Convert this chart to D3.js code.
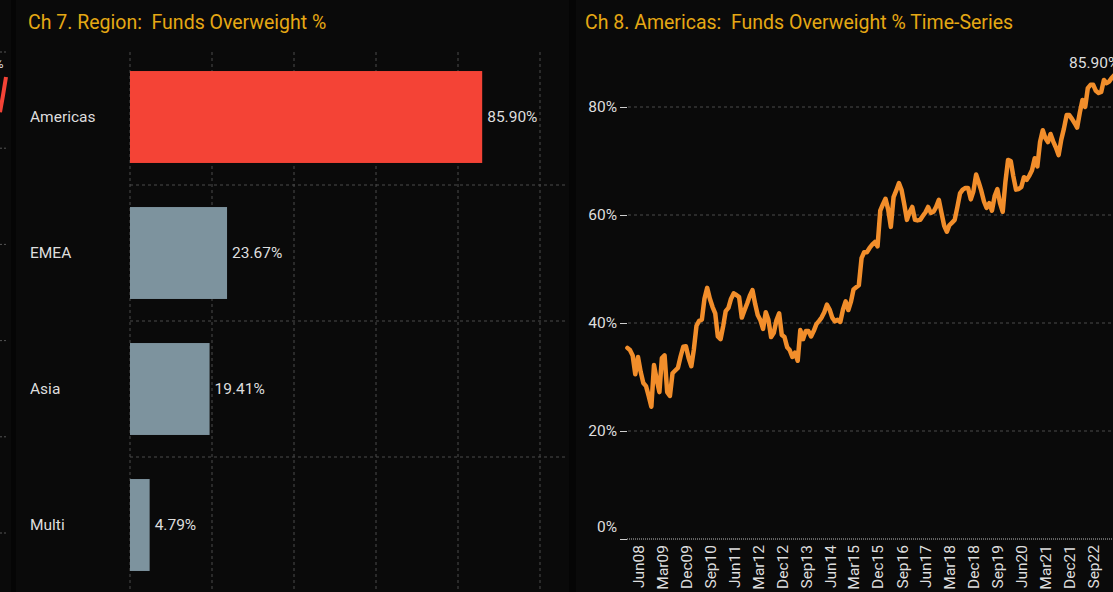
<!DOCTYPE html>
<html><head><meta charset="utf-8">
<script src="https://cdn.jsdelivr.net/npm/d3@7"></script>
<style>
html,body{margin:0;padding:0;background:#050505;}
svg{display:block;}
text{font-family:Roboto,"Noto Sans",sans-serif;}
</style></head>
<body>
<svg id="c" width="1113" height="592"></svg>
<script>
// ---------- DATA ----------
const regions = ["Americas", "EMEA", "Asia", "Multi"];
const regionValues = [85.90, 23.67, 19.41, 4.79];
const barTicks = [0, 20, 40, 60, 80, 100];

const seriesStart = "2008-02"; // first monthly observation
const americasSeries = [
 35.4,35,34,30.5,33.7,31,28.9,28.3,26.5,24.5,32.2,29.5,27.2,33.5,34,27.2,26.5,30.7,31.2,31.7,
 33.8,35.6,35.7,33.5,32,35,39.5,40.4,40.6,44.5,46.5,44.5,43,41.8,37.5,37,39.5,42.2,42.8,44.5,
 45.5,45.2,44.8,41,42.3,43.6,45,46.1,43.5,41.5,40.5,38.9,42,40.6,37.4,38.2,40.5,41.8,37.8,37.4,
 35.5,35,33.7,34.5,33,38.7,37,38.5,38.5,37.5,38.5,39.8,40.4,41,42,43.4,42.5,41,40.3,40.6,
 40.2,42.5,44,42.4,44,46.2,46.6,47,52,53.1,53.1,53.9,54.5,55,54.2,60.8,62,63,61,57.8,
 63.3,64.5,65.9,64.6,62,59.1,60.5,61.5,59.1,59,59.1,59.8,60.5,61.5,60.4,60.6,61.5,62.8,60.4,58,
 56.9,58.1,58.6,59.1,61.5,64,64.7,65,65,62.9,64.4,67.5,66,64.5,62.5,61.3,62.2,60.8,63.5,64.8,
 62.2,60.6,66,70.2,70,67.2,64.7,64.8,65.2,67,66.5,67.3,68.3,70.5,69,73.5,75.7,74.3,73.5,75,
 73.6,72.5,71.1,74,76,78.5,78.5,77.8,77,76.2,79,81.3,80,83.5,84.1,84.1,83,82.6,82.8,85,
 84.4,84.7,85.4,85.9
];
const timeTickLabels = ["Jun08","Mar09","Dec09","Sep10","Jun11","Mar12","Dec12","Sep13","Jun14","Mar15",
 "Dec15","Sep16","Jun17","Mar18","Dec18","Sep19","Jun20","Mar21","Dec21","Sep22"];
const lineTicks = [0, 20, 40, 60, 80];

// tail of the neighbouring (cropped) panel's series, as visible at the left edge
const neighbourTail = [87.5, 91, 94.8];
const neighbourTicks = [0, 20, 40, 60, 80, 100];

// ---------- SETUP ----------
const svg = d3.select("#c");
const TITLE = "#e5a814", TXT = "#dedede", GRID = "#4a4a4a";

// panels
svg.append("rect").attr("x",0).attr("y",0).attr("width",11).attr("height",592).attr("fill","#0a0a0a");
svg.append("rect").attr("x",16).attr("y",0).attr("width",553).attr("height",592).attr("fill","#0a0a0a");
svg.append("rect").attr("x",576).attr("y",0).attr("width",537).attr("height",592).attr("fill","#0a0a0a");

// remnant of neighbouring panel
const g0 = svg.append("g");
const yn = d3.scaleLinear().domain([0,100]).range([533,52]);
g0.selectAll("line").data(neighbourTicks).join("line")
  .attr("x1",0).attr("x2",6).attr("y1",d=>yn(d)).attr("y2",d=>yn(d))
  .attr("stroke","#555").attr("stroke-dasharray","2,2");
const xn = d3.scaleLinear().domain([0,2]).range([0,6]);
g0.append("path").datum(neighbourTail)
  .attr("d",d3.line().x((d,i)=>xn(i)).y(d=>yn(d)))
  .attr("fill","none").attr("stroke","#f44336").attr("stroke-width",4);
g0.append("text").attr("x",-6).attr("y",68).attr("fill",TXT).attr("font-size",13).text("%");

// ---------- BAR CHART ----------
const g1 = svg.append("g");
g1.append("text").attr("x",28).attr("y",29).attr("fill",TITLE).attr("font-size",19.5)
  .style("white-space","pre").text("Ch 7. Region:  Funds Overweight %");

const xb = d3.scaleLinear().domain([0,100]).range([130,540]);
const yb = d3.scaleBand().domain(regions).range([49,593]).paddingInner(0.324).paddingOuter(0.162);

// vertical grid
g1.selectAll(".vg").data(barTicks).join("line")
  .attr("x1",d=>xb(d)).attr("x2",d=>xb(d)).attr("y1",52).attr("y2",592)
  .attr("stroke",GRID).attr("stroke-dasharray","3,3");
// horizontal separators between bands
g1.selectAll(".hg").data(regions.slice(1)).join("line")
  .attr("x1",130).attr("x2",565)
  .attr("y1",d=>yb(d)-yb.step()*yb.paddingInner()/2)
  .attr("y2",d=>yb(d)-yb.step()*yb.paddingInner()/2)
  .attr("stroke",GRID).attr("stroke-dasharray","3,3");

g1.selectAll(".bar").data(regions).join("rect")
  .attr("x",xb(0)).attr("y",d=>yb(d))
  .attr("width",(d,i)=>xb(regionValues[i])-xb(0))
  .attr("height",yb.bandwidth())
  .attr("fill",(d,i)=>i===0?"#f44336":"#7d939e");

g1.selectAll(".cat").data(regions).join("text")
  .attr("x",30).attr("y",d=>yb(d)+yb.bandwidth()/2).attr("dy","0.35em")
  .attr("fill",TXT).attr("font-size",15.5).text(d=>d);

g1.selectAll(".val").data(regions).join("text")
  .attr("x",(d,i)=>xb(regionValues[i])+5).attr("y",d=>yb(d)+yb.bandwidth()/2).attr("dy","0.35em")
  .attr("fill",TXT).attr("font-size",15.5).text((d,i)=>regionValues[i].toFixed(2)+"%");

// ---------- LINE CHART ----------
const g2 = svg.append("g");
g2.append("text").attr("x",585).attr("y",29).attr("fill",TITLE).attr("font-size",19.5)
  .style("white-space","pre").text("Ch 8. Americas:  Funds Overweight % Time-Series");

const parseM = d3.timeParse("%Y-%m");
const t0 = parseM(seriesStart);
const dates = americasSeries.map((v,i)=>d3.timeMonth.offset(t0,i));
const xt = d3.scaleTime().domain([dates[0], dates[dates.length-1]]).range([627.4,1114.4]);
const yt = d3.scaleLinear().domain([0,90]).range([539,53]);

// y grid
g2.selectAll(".yg").data(lineTicks.filter(d=>d>0)).join("line")
  .attr("x1",628).attr("x2",1113).attr("y1",d=>yt(d)).attr("y2",d=>yt(d))
  .attr("stroke",GRID).attr("stroke-dasharray","3,3");

const yAxis = g2.append("g").attr("transform","translate(627,0)")
  .call(d3.axisLeft(yt).tickValues(lineTicks).tickFormat(d=>d+"%").tickSize(7).tickPadding(3));
yAxis.select(".domain").remove();
yAxis.selectAll(".tick line").attr("stroke","#cfcfcf");
yAxis.selectAll("text").attr("fill",TXT).attr("font-size",15.5).attr("font-family","Roboto,sans-serif");
yAxis.selectAll(".tick").filter(d=>d===0).select("text").attr("y",-12);

// x axis
const parseTick = d3.timeParse("%b%y");
const xTickDates = timeTickLabels.map(parseTick);
const xAxis = g2.append("g").attr("transform","translate(0,539)")
  .call(d3.axisBottom(xt).tickValues(xTickDates).tickFormat(d3.timeFormat("%b%y")).tickSize(0).tickPadding(6));
xAxis.select(".domain").remove();
xAxis.selectAll("text").attr("fill",TXT).attr("font-size",15.5).attr("font-family","Roboto,sans-serif")
  .attr("transform","rotate(-90)").attr("text-anchor","end").attr("x",-6).attr("y",0).attr("dy","0.35em");
g2.append("line").attr("x1",627).attr("x2",1113).attr("y1",539).attr("y2",539)
  .attr("stroke","#bdbdbd").attr("stroke-dasharray","1,1");

const line = d3.line().x((d,i)=>xt(dates[i])).y(d=>yt(d)).curve(d3.curveLinear);
g2.append("path").datum(americasSeries).attr("d",line)
  .attr("fill","none").attr("stroke","#f28e2b").attr("stroke-width",4.5)
  .attr("stroke-linejoin","round").attr("stroke-linecap","round");

const lastI = americasSeries.length-1;
g2.append("text").attr("x",xt(dates[lastI])+5).attr("y",yt(americasSeries[lastI])-7)
  .attr("text-anchor","end").attr("fill",TXT).attr("font-size",15.5)
  .text(americasSeries[lastI].toFixed(2)+"%");
</script>
</body></html>
